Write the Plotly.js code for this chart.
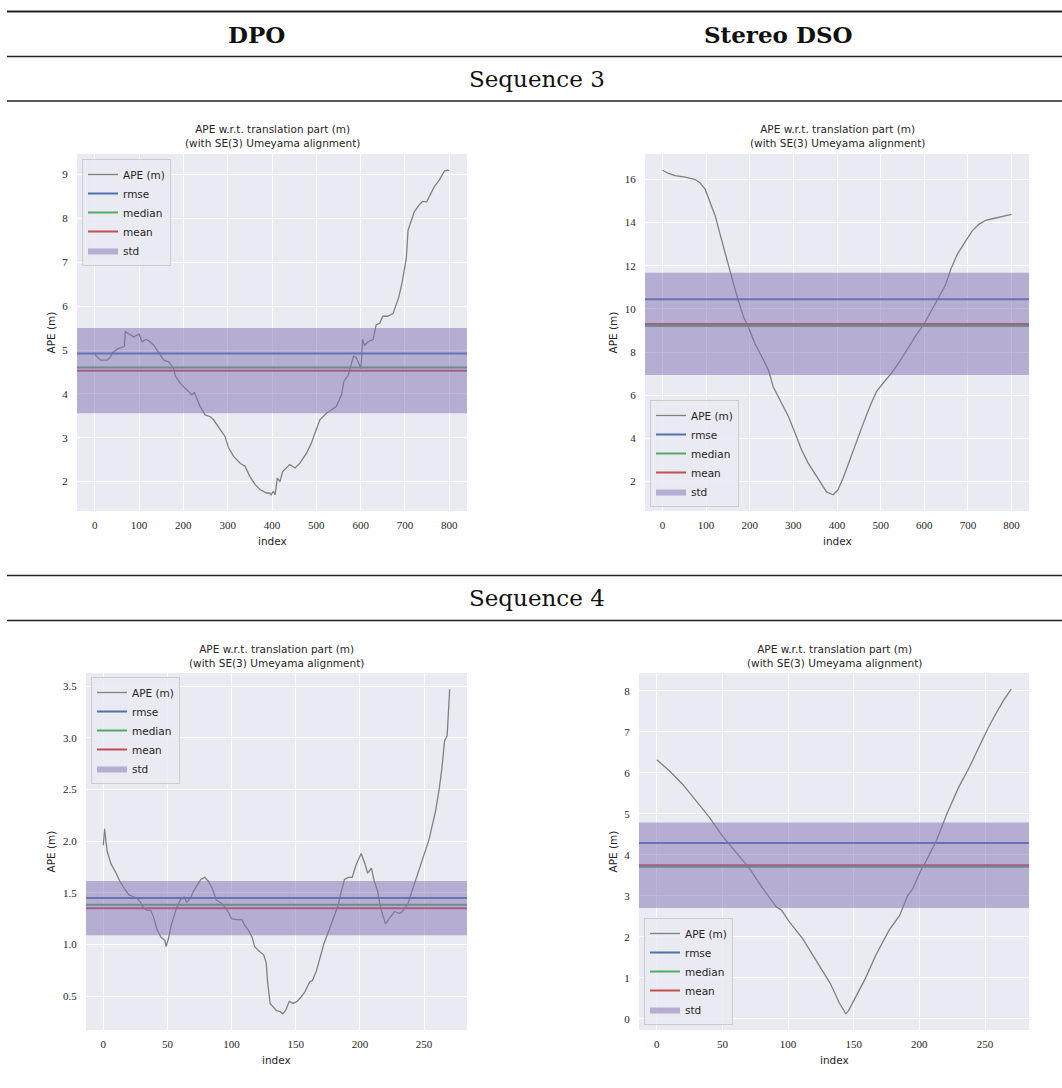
<!DOCTYPE html>
<html><head><meta charset="utf-8">
<script src="https://cdn.plot.ly/plotly-3.0.1.min.js"></script>
<style>html,body{margin:0;padding:0;background:#fff;} #chart{width:1062px;height:1088px;}</style>
</head><body><div id="chart"></div>
<script>
const W = 1062, H = 1088;

// ---------- text ----------
const colHeaders = ['DPO', 'Stereo DSO'];
const rowHeaders = ['Sequence 3', 'Sequence 4'];
const plotTitle = 'APE w.r.t. translation part (m)<br>(with SE(3) Umeyama alignment)';
const xLabel = 'index';
const yLabel = 'APE (m)';
const lineName = 'APE (m)';
const statNames = ['rmse', 'median', 'mean', 'std'];

// ---------- data: Sequence 3, DPO ----------
const seq3_dpo_idx = [0,6,13,28,36,40,51,66,67,69,81,88,100,107,115,122,133,145,156,167,178,182,193,208,219,225,231,238,249,261,268,276,287,294,302,313,328,339,350,362,373,388,395,398,403,407,412,418,424,433,440,452,463,478,489,497,508,523,534,545,557,562,572,579,584,590,598,601,604,609,617,628,635,643,650,661,673,684,686,694,703,707,714,721,733,740,749,757,766,777,789,796,800];
const seq3_dpo_ape = [4.90,4.83,4.77,4.77,4.85,4.94,5.02,5.08,5.10,5.42,5.34,5.30,5.36,5.19,5.24,5.21,5.11,4.92,4.77,4.73,4.58,4.41,4.24,4.09,3.98,4.03,3.86,3.71,3.52,3.48,3.41,3.30,3.14,3.03,2.77,2.58,2.42,2.35,2.12,1.93,1.82,1.74,1.74,1.70,1.78,1.70,2.08,2.00,2.23,2.31,2.39,2.31,2.42,2.65,2.88,3.11,3.41,3.56,3.64,3.71,3.98,4.28,4.43,4.70,4.86,4.83,4.66,4.58,5.24,5.11,5.19,5.24,5.57,5.61,5.77,5.77,5.83,6.14,6.20,6.56,7.09,7.73,7.96,8.15,8.32,8.39,8.38,8.53,8.72,8.87,9.08,9.10,9.09];
const seq3_dpo_stats = [4.92, 4.60, 4.53, 0.97];   // rmse, median, mean, std

// ---------- data: Sequence 3, Stereo DSO ----------
const seq3_dso_idx = [0,14,29,52,75,86,98,109,121,130,140,151,163,174,186,197,212,228,243,254,269,289,304,319,334,353,365,376,391,402,414,429,444,459,475,490,505,524,543,562,581,600,619,634,648,661,676,695,710,725,741,756,771,786,800];
const seq3_dso_ape = [16.43,16.28,16.18,16.11,16.00,15.85,15.54,14.92,14.31,13.62,12.85,12.00,11.15,10.38,9.62,9.15,8.38,7.77,7.15,6.38,5.77,5.00,4.23,3.46,2.85,2.23,1.85,1.51,1.38,1.60,2.15,3.00,3.77,4.62,5.46,6.15,6.54,7.00,7.54,8.15,8.77,9.31,10.00,10.54,11.08,11.85,12.54,13.15,13.62,13.92,14.11,14.18,14.26,14.34,14.38];
const seq3_dso_stats = [10.45, 9.21, 9.30, 2.37];

// ---------- data: Sequence 4, DPO ----------
const seq4_dpo_idx = [0,1,3,6,10,13,17,20,24,26,29,31,34,37,39,42,45,48,49,51,53,55,57,60,63,65,68,70,73,76,79,82,85,88,92,95,98,100,104,108,110,113,116,118,122,125,127,128,130,132,135,138,140,142,145,148,151,154,157,161,163,166,169,172,176,179,183,185,188,191,194,197,200,201,204,206,209,211,214,216,220,223,227,231,233,237,241,245,249,251,254,256,259,262,264,266,268,270];
const seq4_dpo_ape = [1.96,2.12,1.90,1.78,1.69,1.61,1.53,1.48,1.46,1.45,1.41,1.36,1.33,1.33,1.27,1.14,1.07,1.04,0.98,1.07,1.19,1.28,1.35,1.43,1.46,1.41,1.45,1.51,1.57,1.63,1.65,1.61,1.54,1.43,1.40,1.36,1.30,1.25,1.24,1.24,1.19,1.14,1.07,0.98,0.93,0.90,0.82,0.65,0.43,0.40,0.36,0.35,0.33,0.36,0.45,0.43,0.45,0.49,0.54,0.64,0.65,0.74,0.88,1.01,1.14,1.24,1.38,1.49,1.63,1.65,1.65,1.77,1.86,1.88,1.78,1.69,1.74,1.62,1.51,1.36,1.20,1.25,1.32,1.30,1.32,1.38,1.53,1.69,1.82,1.90,2.02,2.13,2.29,2.52,2.71,2.97,3.02,3.47];
const seq4_dpo_stats = [1.449, 1.384, 1.352, 0.263];

// ---------- data: Sequence 4, Stereo DSO ----------
const seq4_dso_idx = [0,10,20,30,40,50,61,71,81,91,95,101,111,121,132,139,144,146,152,159,167,177,185,187,191,195,201,206,213,221,230,238,245,252,258,264,270];
const seq4_dso_ape = [6.32,6.04,5.71,5.32,4.92,4.46,4.05,3.65,3.17,2.73,2.65,2.36,1.96,1.44,0.87,0.39,0.12,0.19,0.55,0.99,1.56,2.16,2.52,2.69,3.00,3.17,3.61,3.90,4.35,5.00,5.65,6.13,6.62,7.07,7.43,7.76,8.04];
const seq4_dso_stats = [4.29, 3.71, 3.745, 1.045];

// ---------- styles ----------
const lineColor = '#808080';
const statColors = ['#4C72B0', '#55A868', '#C44E52'];
const stdFill = 'rgba(129,114,178,0.5)';
const plotBg = '#EAEAF2';
const sansFont = 'DejaVu Sans';
const serifFont = 'Liberation Serif';
const headFont = 'DejaVu Serif';

const panels = [
  {idx: seq3_dpo_idx, ape: seq3_dpo_ape, stats: seq3_dpo_stats, box: [77,154,467,511], dx: 100, dy: 1, fmt: '', leg: [82,159,'top'], ylabX: 50, xlabY: 541, titleY: 136},
  {idx: seq3_dso_idx, ape: seq3_dso_ape, stats: seq3_dso_stats, box: [645,154,1029,511], dx: 100, dy: 2, fmt: '', leg: [650,507,'bottom'], ylabX: 612, xlabY: 541, titleY: 136},
  {idx: seq4_dpo_idx, ape: seq4_dpo_ape, stats: seq4_dpo_stats, box: [86,673,467,1030], dx: 50, dy: 0.5, fmt: '.1f', leg: [91,677,'top'], ylabX: 50, xlabY: 1060, titleY: 655.5},
  {idx: seq4_dso_idx, ape: seq4_dso_ape, stats: seq4_dso_stats, box: [639,673,1029,1030], dx: 50, dy: 1, fmt: '', leg: [644,1025,'bottom'], ylabX: 612, xlabY: 1060, titleY: 655.5}
];

const px = v => v / W;
const py = v => 1 - v / H;

const traces = [];
const layout = {
  width: W, height: H,
  margin: {l: 0, r: 0, t: 0, b: 0},
  paper_bgcolor: '#ffffff',
  plot_bgcolor: plotBg,
  showlegend: true,
  annotations: [],
  shapes: []
};

function pad(arr) {
  const lo = Math.min(...arr), hi = Math.max(...arr);
  const m = (hi - lo) * 0.05;
  return [lo - m, hi + m];
}

panels.forEach((p, i) => {
  const s = i === 0 ? '' : String(i + 1);
  const xa = 'x' + s, ya = 'y' + s, lg = 'legend' + s;
  const xr = pad(p.idx), yr = pad(p.ape);

  traces.push({x: p.idx, y: p.ape, type: 'scatter', mode: 'lines', name: lineName,
    line: {color: lineColor, width: 1.3}, xaxis: xa, yaxis: ya, legend: lg, hoverinfo: 'skip'});
  for (let k = 0; k < 3; k++) {
    traces.push({x: xr, y: [p.stats[k], p.stats[k]], type: 'scatter', mode: 'lines', name: statNames[k],
      line: {color: statColors[k], width: 2}, xaxis: xa, yaxis: ya, legend: lg, hoverinfo: 'skip'});
  }
  const mean = p.stats[2], sd = p.stats[3];
  traces.push({x: [xr[0], xr[1], xr[1], xr[0], xr[0]], y: [mean - sd, mean - sd, mean + sd, mean + sd, mean - sd],
    type: 'scatter', mode: 'lines', fill: 'toself', fillcolor: stdFill, name: statNames[3],
    line: {width: 0, color: 'rgba(0,0,0,0)'}, xaxis: xa, yaxis: ya, legend: lg, hoverinfo: 'skip'});

  const [l, t, r, b] = p.box;
  layout['xaxis' + s] = {
    domain: [px(l), px(r)], anchor: ya, range: xr, dtick: p.dx, tick0: 0,
    showgrid: true, gridcolor: '#ffffff', gridwidth: 1, zeroline: false, showline: false,
    ticks: 'outside', ticklen: 4, tickcolor: 'rgba(0,0,0,0)',
    tickfont: {family: serifFont, size: 11, color: '#262626'}, fixedrange: true
  };
  layout['yaxis' + s] = {
    domain: [py(b), py(t)], anchor: xa, range: yr, dtick: p.dy, tick0: 0, tickformat: p.fmt,
    showgrid: true, gridcolor: '#ffffff', gridwidth: 1, zeroline: false, showline: false,
    ticks: 'outside', ticklen: 6, tickcolor: 'rgba(0,0,0,0)',
    tickfont: {family: serifFont, size: 11, color: '#262626'}, fixedrange: true
  };
  layout[lg] = {
    x: px(p.leg[0]), y: py(p.leg[1]), xanchor: 'left', yanchor: p.leg[2],
    xref: 'paper', yref: 'paper',
    bgcolor: 'rgba(234,234,242,0.85)', bordercolor: '#cccccc', borderwidth: 1,
    font: {family: sansFont, size: 10.5, color: '#262626'}, traceorder: 'normal', itemwidth: 30
  };
  const cx = (l + r) / 2, cy = (t + b) / 2;
  layout.annotations.push({text: plotTitle, x: px(cx), y: py(p.titleY), xref: 'paper', yref: 'paper',
    xanchor: 'center', yanchor: 'middle', showarrow: false, font: {family: sansFont, size: 10.5, color: '#262626'}});
  layout.annotations.push({text: xLabel, x: px(cx), y: py(p.xlabY), xref: 'paper', yref: 'paper',
    xanchor: 'center', yanchor: 'middle', showarrow: false, font: {family: sansFont, size: 10.5, color: '#262626'}});
  layout.annotations.push({text: yLabel, x: px(p.ylabX), y: py(cy), xref: 'paper', yref: 'paper', textangle: -90,
    xanchor: 'center', yanchor: 'middle', showarrow: false, font: {family: sansFont, size: 10.5, color: '#262626'}});
});

// header table rules and labels
const rules = [[11.5, 2], [56.5, 1.3], [101, 1.3], [575.5, 1.3], [620.5, 1.6]];
rules.forEach(([y, w]) => layout.shapes.push({type: 'line', xref: 'paper', yref: 'paper',
  x0: px(7), x1: 1, y0: py(y), y1: py(y), line: {color: '#222222', width: w}}));

const colX = [256, 778];
colHeaders.forEach((h, i) => layout.annotations.push({text: '<b>' + h + '</b>', x: px(colX[i]), y: py(34),
  xref: 'paper', yref: 'paper', xanchor: 'center', yanchor: 'middle', showarrow: false,
  font: {family: headFont, size: 23, color: '#111111'}}));
const rowY = [79, 598];
rowHeaders.forEach((h, i) => layout.annotations.push({text: h, x: px(537), y: py(rowY[i]),
  xref: 'paper', yref: 'paper', xanchor: 'center', yanchor: 'middle', showarrow: false,
  font: {family: headFont, size: 23, color: '#111111'}}));

Plotly.newPlot('chart', traces, layout, {displayModeBar: false, staticPlot: true});
</script></body></html>
